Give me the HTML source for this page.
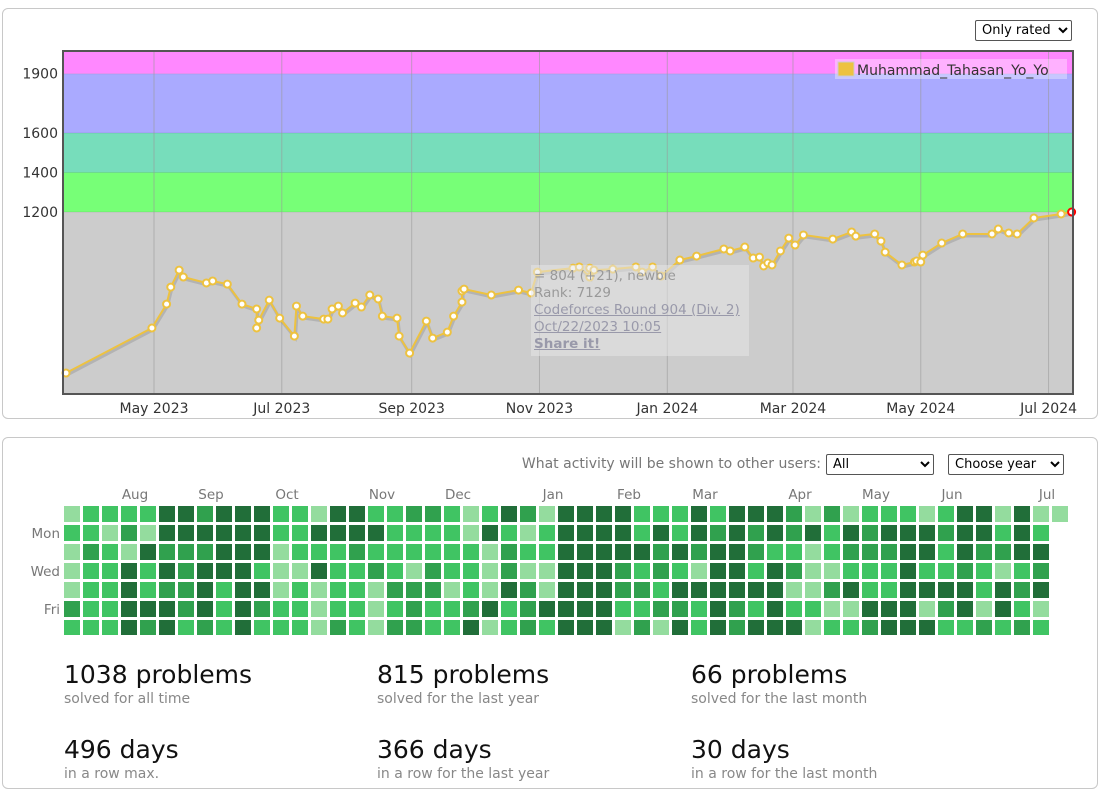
<!DOCTYPE html>
<html><head><meta charset="utf-8">
<style>
html,body{margin:0;width:1100px;height:783px;overflow:hidden;background:#fff;font-family:"DejaVu Sans",Verdana,sans-serif;}
.panel{position:absolute;left:2px;width:1094px;border:1px solid #c8c8c8;border-radius:6px;background:#fff;}
select{font-family:"DejaVu Sans",sans-serif;font-size:13px;position:absolute;height:21px;border:1px solid #555;border-radius:2px;background:#fff;padding:0 2px;}
.stat{position:absolute;}
.big{font-size:25px;color:#111;}
.sub{font-size:14px;color:#888;margin-top:2px;}
</style></head><body>
<div class="panel" style="top:8px;height:409px;"></div>
<select style="left:975px;top:20px;width:97px;"><option>Only rated</option></select>
<svg id="chart" width="1100" height="420" style="position:absolute;left:0;top:0;font-family:'DejaVu Sans',sans-serif;"></svg>
<div style="position:absolute;left:531px;top:265px;width:218px;height:91px;background:rgba(230,230,230,0.55);font-size:13.5px;line-height:17px;color:#999;padding:3px;box-sizing:border-box;">
<div>= 804 (+21), newbie</div><div>Rank: 7129</div>
<div><a style="color:#99a;text-decoration:underline;">Codeforces Round 904 (Div. 2)</a></div>
<div><a style="color:#99a;text-decoration:underline;">Oct/22/2023 10:05</a></div>
<div><a style="color:#99a;text-decoration:underline;font-weight:bold;">Share it!</a></div>
</div>
<div class="panel" style="top:437px;height:350px;"></div>
<div style="position:absolute;left:420px;width:401px;text-align:right;top:456px;font-size:14px;color:#777;">What activity will be shown to other users:</div>
<select style="left:826px;top:454px;width:108px;"><option>All</option></select>
<select style="left:948px;top:454px;width:116px;"><option>Choose year</option></select>
<svg id="heat" width="1100" height="150" style="position:absolute;left:0;top:485px;font-family:'DejaVu Sans',sans-serif;"></svg>
<div class="stat" style="left:64px;top:660px;"><div class="big">1038 problems</div><div class="sub">solved for all time</div></div>
<div class="stat" style="left:377px;top:660px;"><div class="big">815 problems</div><div class="sub">solved for the last year</div></div>
<div class="stat" style="left:691px;top:660px;"><div class="big">66 problems</div><div class="sub">solved for the last month</div></div>
<div class="stat" style="left:64px;top:735px;"><div class="big">496 days</div><div class="sub">in a row max.</div></div>
<div class="stat" style="left:377px;top:735px;"><div class="big">366 days</div><div class="sub">in a row for the last year</div></div>
<div class="stat" style="left:691px;top:735px;"><div class="big">30 days</div><div class="sub">in a row for the last month</div></div>
<script>
// days since May 1 2023
const days=[-42,-1,6,8,12,14,25,28,35,42,49,49,50,55,60,67,68,71,81,83,85,88,90,96,99,103,107,109,116,117,122,130,133,140,143,147,147,148,161,174,180,183,200,203,208,208,210,219,230,233,238,242,251,259,272,275,282,286,289,291,293,295,299,303,306,310,324,333,335,344,347,349,357,363,364,366,367,376,386,400,403,408,412,420,433,438];
const ratings=[385,613,734,820,906,871,841,851,835,734,709,613,653,754,663,572,724,673,658,658,709,724,689,739,719,780,760,673,663,572,486,648,562,592,673,744,800,810,780,805,790,896,916,922,871,916,906,911,922,896,922,876,957,977,1013,1003,1023,967,972,927,942,932,1003,1068,1033,1084,1063,1099,1078,1089,1053,997,932,947,952,947,982,1043,1089,1089,1114,1094,1089,1170,1190,1200];
const yTicks=[1200,1400,1600,1900];
const xTickDays=[0,61,123,184,245,305,366,427];
const xTickLabels=["May 2023","Jul 2023","Sep 2023","Nov 2023","Jan 2024","Mar 2024","May 2024","Jul 2024"];
const bandLimits=[1200,1400,1600,1900];
const bandColors=["#cccccc","#77ff77","#77ddbb","#aaaaff","#ff88ff"];
const NS="http://www.w3.org/2000/svg";
const L=64,R=1072,T=52,B=393,YMIN=284,YMAX=2010;
const xs=d=>154+d*2.095;
const ys=r=>B-(r-YMIN)/(YMAX-YMIN)*(B-T);
const svg=document.getElementById('chart');
function mk(tag,attrs,parent){const e=document.createElementNS(NS,tag);for(const k in attrs)e.setAttribute(k,attrs[k]);(parent||svg).appendChild(e);return e;}
const edges=[YMIN].concat(bandLimits,[YMAX]);
for(let i=0;i<bandColors.length;i++){
  const e=mk('rect',{x:L,y:ys(edges[i+1]),width:R-L,height:ys(edges[i])-ys(edges[i+1]),fill:bandColors[i]});
  
  
  if(i>0){mk('line',{x1:L,x2:R,y1:ys(edges[i]),y2:ys(edges[i]),stroke:'rgba(0,0,0,0.08)'});}
}
xTickDays.forEach((d,i)=>{
  const g=mk('line',{x1:xs(d),x2:xs(d),y1:T,y2:B,stroke:'#999','stroke-opacity':0.6});
  
  
  const t=mk('text',{x:xs(d),y:413,'text-anchor':'middle','font-size':14,fill:'#333'});
  t.textContent=xTickLabels[i];
  
  
});
yTicks.forEach(v=>{
  const t=mk('text',{x:58,y:ys(v)+5,'text-anchor':'end','font-size':14,fill:'#333'});
  t.textContent=v;
  
  
});
const pts=days.map((d,i)=>xs(d)+','+ys(ratings[i])).join(' ');
mk('polyline',{points:days.map((d,i)=>(xs(d)+1)+','+(ys(ratings[i])+2)).join(' '),fill:'none',stroke:'rgba(0,0,0,0.12)','stroke-width':3});
const pl=mk('polyline',{points:pts,fill:'none',stroke:'#edc240','stroke-width':2});


days.forEach((d,i)=>{
  const last=i===days.length-1;
  const c=mk('circle',{cx:xs(d),cy:ys(ratings[i]),r:3.5,fill:'#fff',stroke:last?'#ff0000':'#edc240','stroke-width':2});
  
  
});
const fr=mk('rect',{x:L-1,y:T-1,width:R-L+2,height:B-T+2,fill:'none',stroke:'#555','stroke-width':2});


const lg=mk('rect',{x:835,y:59,width:232,height:20,fill:'rgba(255,255,255,0.35)'});


mk('rect',{x:838,y:62,width:16,height:14,fill:'#edc240',stroke:'#ccc'});
const lt=mk('text',{x:857,y:75,'font-size':14,fill:'#333'});
lt.textContent='Muhammad_Tahasan_Yo_Yo';



// heatmap levels per weekday row, columns left to right
const heatRows=[
"12222443444221442233212431"+"44442224244431312221244141"+"1",
"22131444444224444222214212"+"44442424343434243444344242",
"13214333444122232222221322"+"44444343443221233344243344",
"12242434442114223213221311"+"44432321442431122242232123",
"12242334244121221333121431"+"44433244444411342244442434",
"32244434243221221232234234"+"44422332432422114441341421",
"22243423242221321332241232"+"44413142434441223444223232"];
const monthLabels=["Aug","Sep","Oct","Nov","Dec","Jan","Feb","Mar","Apr","May","Jun","Jul"];
const monthCols=[3,7,11,16,20,25,29,33,38,42,46,51];
const dayLabels=["Mon","Wed","Fri"];
const dayRows=[1,3,5];
const levelColors=["#ebedf0","#94dc9e","#40c463","#30a14e","#216e39"];
const hs=document.getElementById('heat');
const cx=c=>64+c*19, cy=r=>21+r*19;
heatRows.forEach((row,r)=>{
  for(let c=0;c<row.length;c++){
    const e=mk('rect',{x:cx(c),y:cy(r),width:16,height:16,fill:levelColors[+row[c]]},hs);
    
    
  }
});
monthLabels.forEach((m,i)=>{
  const t=mk('text',{x:cx(monthCols[i])+14,y:14,'text-anchor':'middle','font-size':13.5,fill:'#777'},hs);
  t.textContent=m;
  
  
});
dayLabels.forEach((d,i)=>{
  const t=mk('text',{x:60,y:cy(dayRows[i])+13,'text-anchor':'end','font-size':13.5,fill:'#777'},hs);
  t.textContent=d;
  
  
});
</script>
</body></html>
